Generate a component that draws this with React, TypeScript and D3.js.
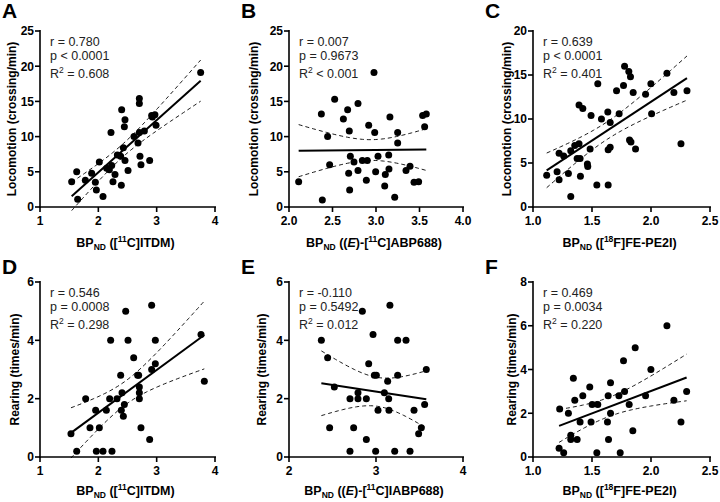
import React from 'react';
import * as d3 from 'd3';

// ---------- data ----------
const itdmX = [1.543,1.629,1.646,1.777,1.886,1.949,1.966,2.017,2.08,2.143,2.189,2.217,2.229,2.251,2.286,2.326,2.383,2.394,2.4,2.429,2.446,2.457,2.457,2.509,2.611,2.68,2.703,2.703,2.703,2.714,2.731,2.789,2.88,2.914,2.926,2.97,2.989,3.754];
const itdmLoco = [3.6,5.0,1.1,3.8,4.8,3.5,2.4,6.4,1.5,5.5,5.3,10.6,5.9,3.6,4.6,7.4,7.2,3.1,13.8,8.4,11.4,12.4,6.6,5.2,10.0,9.1,15.4,14.7,10.6,7.2,6.0,10.8,6.6,13.0,12.8,13.1,11.6,19.1];

const abpX = [2.111,2.372,2.383,2.444,2.467,2.525,2.625,2.674,2.686,2.693,2.697,2.705,2.747,2.793,2.793,2.843,2.889,2.9,2.916,2.977,2.985,2.996,3.023,3.1,3.107,3.146,3.149,3.16,3.215,3.249,3.249,3.345,3.391,3.437,3.49,3.536,3.559,3.578];
const abpLoco = [3.6,13.2,1.0,10.0,6.0,15.3,12.5,13.8,4.8,10.8,2.4,7.2,6.4,14.7,5.2,6.6,3.8,6.6,11.6,19.1,10.6,5.0,7.2,3.0,4.6,7.4,5.4,12.8,1.4,9.1,10.6,5.2,5.8,3.5,3.6,13.0,11.4,13.2];

const pe2iX = [1.116,1.204,1.221,1.221,1.26,1.3,1.32,1.32,1.354,1.374,1.39,1.39,1.399,1.402,1.422,1.461,1.464,1.484,1.492,1.541,1.549,1.58,1.634,1.637,1.637,1.654,1.654,1.708,1.73,1.767,1.776,1.812,1.818,1.826,1.83,1.849,1.869,1.954,1.999,2.005,2.135,2.194,2.254,2.305];
const pe2iLoco = [3.6,4.0,3.1,6.1,5.8,3.8,6.4,1.2,7.0,5.5,11.6,7.2,5.5,3.5,11.2,4.9,4.6,6.6,10.4,2.5,14.0,10.0,10.8,2.5,6.5,6.8,9.6,13.2,10.6,13.8,16.0,15.4,7.6,14.8,7.4,13.0,6.6,12.8,14.0,10.6,15.2,13.0,7.2,13.2];

const itdmX2 = [1.531,1.629,1.783,1.857,1.954,1.966,2.017,2.08,2.137,2.194,2.211,2.234,2.32,2.383,2.394,2.406,2.429,2.446,2.469,2.509,2.606,2.674,2.691,2.703,2.703,2.703,2.731,2.88,2.914,2.914,2.977,2.977,3.76,3.817];
const itdmRear = [0.8,0.2,2.0,1.0,1.6,0.2,1.0,0.2,1.6,2.0,4.0,0.2,2.0,2.8,1.6,2.2,1.4,1.8,5.0,4.0,3.4,2.8,2.8,2.4,2.2,2.0,1.0,0.6,3.0,5.2,3.2,4.0,4.2,2.6];

const abpX2 = [2.372,2.444,2.467,2.521,2.701,2.701,2.743,2.793,2.793,2.843,2.889,2.889,2.916,2.966,2.981,3.004,2.996,3.023,3.096,3.134,3.146,3.149,3.16,3.215,3.249,3.249,3.345,3.391,3.437,3.49,3.521,3.559,3.578];
const abpRear = [4.0,3.4,1.0,2.4,2.0,0.2,1.0,2.2,2.0,5.0,2.0,0.6,3.2,4.2,2.8,2.8,0.2,1.6,2.2,2.6,2.0,1.6,5.2,0.2,4.0,2.8,4.0,0.2,1.6,0.8,1.0,1.8,3.0];

const pe2iX2 = [1.221,1.226,1.26,1.3,1.32,1.32,1.342,1.354,1.374,1.399,1.422,1.481,1.492,1.501,1.541,1.549,1.631,1.637,1.64,1.657,1.657,1.728,1.739,1.767,1.776,1.815,1.846,1.866,1.954,1.999,2.135,2.194,2.254,2.302];
const pe2iRear = [0.4,2.2,0.2,2.0,1.0,0.8,3.6,2.6,0.8,1.6,2.8,3.2,1.6,2.4,0.2,2.4,1.6,2.8,0.8,3.4,2.0,2.8,0.2,4.4,3.0,2.4,1.2,5.0,2.8,4.0,6.0,2.6,1.6,3.0];

const panelLetters = ['A', 'B', 'C', 'D', 'E', 'F'];
const statR = ['r = 0.780', 'r = 0.007', 'r = 0.639', 'r = 0.546', 'r = -0.110', 'r = 0.469'];
const statP = ['p < 0.0001', 'p = 0.9673', 'p < 0.0001', 'p = 0.0008', 'p = 0.5492', 'p = 0.0034'];
const statR2 = [' = 0.608', ' < 0.001', ' = 0.401', ' = 0.298', ' = 0.012', ' = 0.220'];
const xDomains = [[1, 4], [2, 4], [1, 2.5], [1, 4], [2, 4], [1, 2.5]];
const yDomains = [[0, 25], [0, 25], [0, 20], [0, 6], [0, 6], [0, 8]];
const xTickVals = [[1, 2, 3, 4], [2.0, 2.5, 3.0, 3.5, 4.0], [1.0, 1.5, 2.0, 2.5], [1, 2, 3, 4], [2, 3, 4], [1.0, 1.5, 2.0, 2.5]];
const xTickFmt = ['d', '.1f', '.1f', 'd', 'd', '.1f'];
const yTickVals = [[0, 5, 10, 15, 20, 25], [0, 5, 10, 15, 20, 25], [0, 5, 10, 15, 20], [0, 2, 4, 6], [0, 2, 4, 6], [0, 2, 4, 6, 8]];
const yTitles = ['Locomotion (crossing/min)', 'Locomotion (crossing/min)', 'Locomotion (crossing/min)', 'Rearing (times/min)', 'Rearing (times/min)', 'Rearing (times/min)'];
const xTitleTracer = ['ITDM', 'ABP688', 'FE-PE2I', 'ITDM', 'IABP688', 'FE-PE2I'];

const seriesX = [itdmX, abpX, pe2iX, itdmX2, abpX2, pe2iX2];
const seriesY = [itdmLoco, abpLoco, pe2iLoco, itdmRear, abpRear, pe2iRear];

// ---------- layout ----------
const colLeft = [40, 289, 533];
const colW = [175, 174, 177];
const rowTop = [31, 282];
const rowH = [176, 175];
const xTitleOffset = [40, 38];
const yTitleGap = [28, 35, 26, 25, 27, 21];
const FONT = 'Liberation Sans, Arial, Helvetica, sans-serif';

function fit(xs: number[], ys: number[]) {
  const n = xs.length;
  const mx = d3.mean(xs)!;
  const my = d3.mean(ys)!;
  let sxx = 0, sxy = 0;
  for (let i = 0; i < n; i++) { sxx += (xs[i] - mx) ** 2; sxy += (xs[i] - mx) * (ys[i] - my); }
  const b = sxy / sxx;
  const a = my - b * mx;
  let sse = 0;
  for (let i = 0; i < n; i++) sse += (ys[i] - a - b * xs[i]) ** 2;
  const s = Math.sqrt(sse / (n - 2));
  const df = n - 2;
  const t = 1.96 + 2.4 / df;
  const f = (x: number) => a + b * x;
  const half = (x: number) => t * s * Math.sqrt(1 / n + (x - mx) ** 2 / sxx);
  return { f, half };
}

function xTitle(i: number) {
  const isE = i === 1 || i === 4;
  const iso = i === 2 || i === 5 ? '18' : '11';
  const el = i === 2 || i === 5 ? 'F]' : 'C]';
  if (isE) {
    return (
      <>
        <tspan>BP</tspan>
        <tspan dy={3} fontSize={8.5}>ND</tspan>
        <tspan dy={-3}> ((</tspan>
        <tspan fontStyle="italic">E</tspan>
        <tspan>)-[</tspan>
        <tspan dy={-5} fontSize={8.5}>{iso}</tspan>
        <tspan dy={5}>{el}{xTitleTracer[i]})</tspan>
      </>
    );
  }
  return (
    <>
      <tspan>BP</tspan>
      <tspan dy={3} fontSize={8.5}>ND</tspan>
      <tspan dy={-3}> ([</tspan>
      <tspan dy={-5} fontSize={8.5}>{iso}</tspan>
      <tspan dy={5}>{el}{xTitleTracer[i]})</tspan>
    </>
  );
}

function Panel({ i }: { i: number }) {
  const col = i % 3;
  const row = Math.floor(i / 3);
  const left = colLeft[col];
  const top = rowTop[row];
  const w = colW[col];
  const h = rowH[row];
  const x = d3.scaleLinear().domain(xDomains[i]).range([left, left + w]);
  const y = d3.scaleLinear().domain(yDomains[i]).range([top + h, top]);
  const xs = seriesX[i];
  const ys = seriesY[i];
  const { f, half } = fit(xs, ys);
  const [x0, x1] = d3.extent(xs) as [number, number];
  const samples = d3.range(0, 61).map((k) => x0 + (x1 - x0) * k / 60);
  const line = d3.line<number[]>().x((d) => x(d[0])).y((d) => y(d[1]));
  const upper = line(samples.map((s) => [s, f(s) + half(s)]))!;
  const lower = line(samples.map((s) => [s, f(s) - half(s)]))!;
  const fitPath = line([[x0, f(x0)], [x1, f(x1)]])!;
  const fmt = d3.format(xTickFmt[i]);
  const bottom = top + h;
  const sx = left + 10;
  return (
    <g>
      <text x={col === 0 ? 2 : colLeft[col] - 48} y={row === 0 ? 18 : 274} fontSize={21} fontWeight="bold" fontFamily={FONT}>{panelLetters[i]}</text>
      {/* axes */}
      <line x1={left} x2={left} y1={top - 1} y2={bottom + 1} stroke="#000" strokeWidth={1.6} />
      <line x1={left - 1} x2={left + w + 1} y1={bottom} y2={bottom} stroke="#000" strokeWidth={1.6} />
      {yTickVals[i].map((v) => (
        <g key={'y' + v}>
          <line x1={left - 5} x2={left} y1={y(v)} y2={y(v)} stroke="#000" strokeWidth={1.6} />
          <text x={left - 6} y={y(v)} dy="0.36em" textAnchor="end" fontSize={12} fontWeight="bold" fontFamily={FONT}>{v}</text>
        </g>
      ))}
      {xTickVals[i].map((v) => (
        <g key={'x' + v}>
          <line x1={x(v)} x2={x(v)} y1={bottom} y2={bottom + 5} stroke="#000" strokeWidth={1.6} />
          <text x={x(v)} y={bottom + 18} textAnchor="middle" fontSize={12} fontWeight="bold" fontFamily={FONT}>{fmt(v)}</text>
        </g>
      ))}
      <text transform={`translate(${left - yTitleGap[i]},${top + h / 2}) rotate(-90)`} textAnchor="middle" dy="0.35em" fontSize={12} fontWeight="bold" fontFamily={FONT}>{yTitles[i]}</text>
      <text x={left + w / 2 - 2} y={bottom + xTitleOffset[row]} textAnchor="middle" fontSize={12.5} fontWeight="bold" fontFamily={FONT}>{xTitle(i)}</text>
      {/* fit */}
      <path d={upper} fill="none" stroke="#000" strokeWidth={0.9} strokeDasharray="4,3" />
      <path d={lower} fill="none" stroke="#000" strokeWidth={0.9} strokeDasharray="4,3" />
      <path d={fitPath} fill="none" stroke="#000" strokeWidth={2} />
      {xs.map((v, k) => (
        <circle key={k} cx={x(v)} cy={y(ys[k])} r={3.5} fill="#000" />
      ))}
      {/* stats */}
      <g fontSize={12.5} fontFamily={FONT} fill="#222">
        <text x={sx} y={top + 15}>{statR[i]}</text>
        <text x={sx} y={top + 29}>{statP[i]}</text>
        <text x={sx} y={top + 46.5}>
          <tspan>R</tspan>
          <tspan dy={-5} fontSize={8.5}>2</tspan>
          <tspan dy={5}>{statR2[i]}</tspan>
        </text>
      </g>
    </g>
  );
}

export default function App() {
  return (
    <svg width={720} height={502} style={{ display: 'block', position: 'absolute', left: 0, top: 0, background: '#fff' }}>
      <rect width={720} height={502} fill="#fff" />
      {panelLetters.map((_, i) => <Panel key={i} i={i} />)}
    </svg>
  );
}
